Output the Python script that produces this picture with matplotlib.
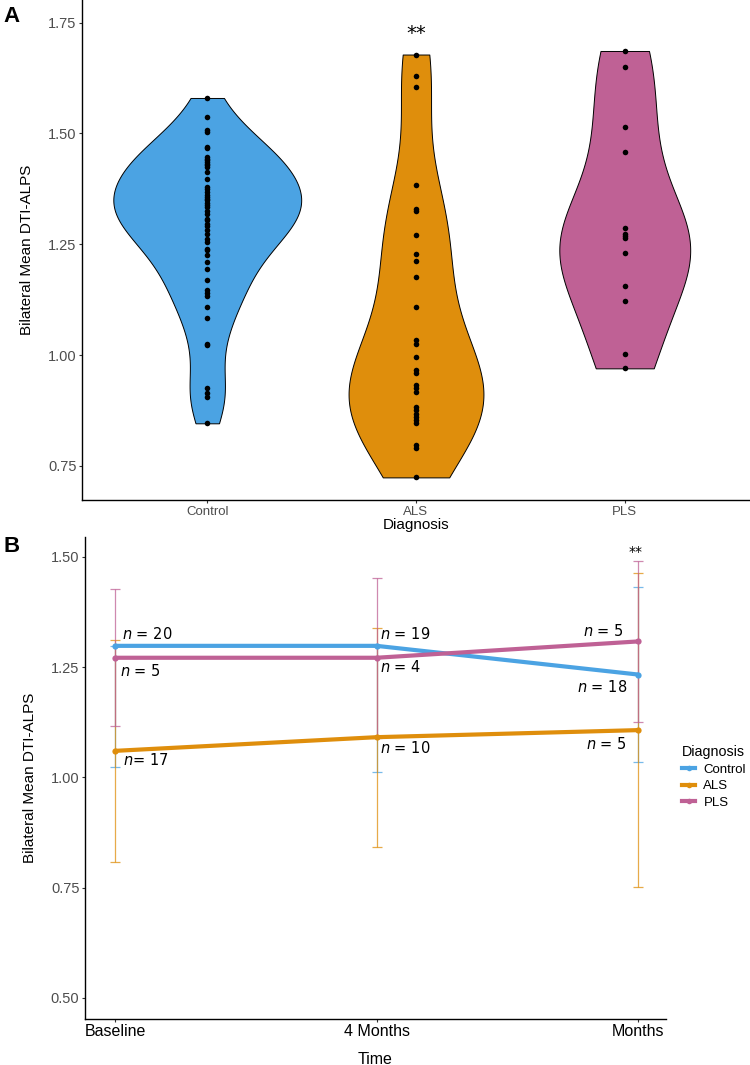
import numpy as np
import matplotlib
matplotlib.use("Agg")
import matplotlib.pyplot as plt
from matplotlib.lines import Line2D

plt.rcParams['font.family'] = ['Liberation Sans', 'DejaVu Sans']

# ---------------- Panel A data ----------------
groups = ["Control", "ALS", "PLS"]
control_vals = [1.580, 1.537, 1.507, 1.503, 1.470, 1.466, 1.447, 1.443, 1.439, 1.436,
                1.432, 1.428, 1.424, 1.413, 1.398, 1.379, 1.375, 1.368, 1.360, 1.357,
                1.353, 1.349, 1.342, 1.338, 1.334, 1.326, 1.319, 1.308, 1.304, 1.296,
                1.292, 1.281, 1.274, 1.262, 1.255, 1.240, 1.236, 1.225, 1.210, 1.195,
                1.170, 1.146, 1.139, 1.134, 1.108, 1.084, 1.025, 1.023, 0.925, 0.914,
                0.906, 0.846]
als_vals = [1.678, 1.629, 1.604, 1.383, 1.330, 1.325, 1.270, 1.229, 1.212, 1.176,
            1.108, 1.034, 1.025, 0.996, 0.967, 0.959, 0.933, 0.926, 0.916, 0.882,
            0.876, 0.868, 0.861, 0.853, 0.846, 0.797, 0.790, 0.724]
pls_vals = [1.686, 1.650, 1.515, 1.457, 1.287, 1.274, 1.268, 1.264, 1.231, 1.155,
            1.123, 1.002, 0.970]
colors = ["#4BA3E3", "#DF8E0C", "#BF6195"]
sig_label_a = "**"

# ---------------- Panel B data ----------------
times = ["Baseline", "4 Months", "Months"]
ctrl_mean = [1.298, 1.298, 1.233]
als_mean = [1.060, 1.091, 1.107]
pls_mean = [1.271, 1.271, 1.308]
ctrl_err_low = [0.275, 0.285, 0.198]
ctrl_err_high = [0.0, 0.0, 0.198]
als_err = [0.251, 0.248, 0.356]
pls_err = [0.155, 0.181, 0.183]
ctrl_n = [20, 19, 18]
als_n = [17, 10, 5]
pls_n = [5, 4, 5]
sig_label_b = "**"

fig = plt.figure(figsize=(7.5, 10.65), dpi=100)

# ================= Panel A =================
axA = fig.add_axes([82/750, 1-500/1065, (750-82)/750, 500/1065])
data = [np.array(control_vals), np.array(als_vals), np.array(pls_vals)]


def nrd0_factor(x):
    sd = np.std(x, ddof=1)
    iqr = np.subtract(*np.percentile(x, [75, 25]))
    lo = min(sd, iqr / 1.34)
    bw = 0.9 * lo * len(x) ** (-0.2)
    return bw / sd

positions = np.arange(1, len(groups) + 1)
widths = [0.90, 0.646, 0.627]
for i, d in enumerate(data):
    vp = axA.violinplot([d], positions=[positions[i]], widths=[widths[i]],
                        showextrema=False, points=300,
                        bw_method=nrd0_factor(d))
    for b in vp['bodies']:
        b.set_facecolor(colors[i])
        b.set_edgecolor('black')
        b.set_linewidth(0.7)
        b.set_alpha(1)
    axA.plot(np.full(len(d), positions[i]), d, 'o', color='black', ms=4.0,
             mec='none', zorder=3)

axA.text(2, 1.726, sig_label_a, ha='center', va='center', fontsize=14,
         family='DejaVu Sans')
axA.set_xlim(0.4, 3.6)
axA.set_ylim(0.673, 1.801)
axA.set_xticks(positions)
axA.set_xticklabels(groups)
axA.set_yticks([0.75, 1.00, 1.25, 1.50, 1.75])
axA.set_yticklabels(["0.75", "1.00", "1.25", "1.50", "1.75"])
axA.tick_params(axis='both', colors='#333333', labelcolor='#4D4D4D', length=2.5,
                width=0.8, pad=1.5)
axA.tick_params(axis='y', labelsize=10.5)
axA.tick_params(axis='x', labelsize=9.5)
axA.set_ylabel("Bilateral Mean DTI-ALPS", fontsize=11, labelpad=10)
axA.set_xlabel("Diagnosis", fontsize=11, labelpad=0)
for s in ['top', 'right']:
    axA.spines[s].set_visible(False)
for s in ['left', 'bottom']:
    axA.spines[s].set_linewidth(1.0)

fig.text(12/750, 1-16/1065, "A", fontsize=16, fontweight='bold', ha='center', va='center')

# ================= Panel B =================
axB = fig.add_axes([85/750, 1-1018.7/1065, (666-85)/750, (1018.7-537.3)/1065])
x = np.arange(1, len(times) + 1)

axB.errorbar(x, ctrl_mean, yerr=[ctrl_err_low, ctrl_err_high], fmt='none',
             ecolor=colors[0], alpha=0.75, elinewidth=0.9, capsize=3.5,
             capthick=0.9, zorder=2)
axB.errorbar(x, als_mean, yerr=als_err, fmt='none', ecolor=colors[1], alpha=0.75,
             elinewidth=0.9, capsize=3.5, capthick=0.9, zorder=2)
axB.errorbar(x, pls_mean, yerr=pls_err, fmt='none', ecolor=colors[2], alpha=0.75,
             elinewidth=0.9, capsize=3.5, capthick=0.9, zorder=2)

for means, c in zip([ctrl_mean, als_mean, pls_mean], colors):
    axB.plot(x, means, '-', color=c, lw=3.0, zorder=3, solid_capstyle='butt')
    axB.plot(x, means, 'o', color=c, ms=4.5, zorder=4, mec='none')

ntext_kw = dict(fontsize=10.5, family='DejaVu Sans', va='center')
axB.text(1.027, 1.325, r"$n$ = %d" % ctrl_n[0], ha='left', **ntext_kw)
axB.text(1.020, 1.242, r"$n$ = %d" % pls_n[0], ha='left', **ntext_kw)
axB.text(1.030, 1.039, r"$n$= %d" % als_n[0], ha='left', **ntext_kw)
axB.text(2.013, 1.324, r"$n$ = %d" % ctrl_n[1], ha='left', **ntext_kw)
axB.text(2.013, 1.251, r"$n$ = %d" % pls_n[1], ha='left', **ntext_kw)
axB.text(2.013, 1.067, r"$n$ = %d" % als_n[1], ha='left', **ntext_kw)
axB.text(2.946, 1.332, r"$n$ = %d" % pls_n[2], ha='right', **ntext_kw)
axB.text(2.960, 1.205, r"$n$ = %d" % ctrl_n[2], ha='right', **ntext_kw)
axB.text(2.958, 1.075, r"$n$ = %d" % als_n[2], ha='right', **ntext_kw)
axB.text(2.99, 1.511, sig_label_b, ha='center', va='center', fontsize=10,
         family='DejaVu Sans')

axB.set_xlim(0.885, 3.107)
axB.set_ylim(0.453, 1.544)
axB.set_xticks(x)
axB.set_xticklabels(times)
axB.set_yticks([0.50, 0.75, 1.00, 1.25, 1.50])
axB.set_yticklabels(["0.50", "0.75", "1.00", "1.25", "1.50"])
axB.tick_params(axis='both', colors='#333333', length=2.5, width=0.8, pad=1.5)
axB.tick_params(axis='y', labelsize=10.5, labelcolor='#4D4D4D')
axB.tick_params(axis='x', labelsize=11.5, labelcolor='black')
axB.set_ylabel("Bilateral Mean DTI-ALPS", fontsize=11, labelpad=10)
axB.set_xlabel("Time", fontsize=11.5, labelpad=9)
for s in ['top', 'right']:
    axB.spines[s].set_visible(False)
for s in ['left', 'bottom']:
    axB.spines[s].set_linewidth(1.0)

handles = [Line2D([0], [0], color=c, lw=3, marker='o', ms=4, mec='none')
           for c in colors]
leg = fig.legend(handles, groups, title="Diagnosis", loc='upper left',
                 bbox_to_anchor=(677/750, 1-740/1065), frameon=False,
                 fontsize=9.5, title_fontsize=10.3, handlelength=1.0,
                 handletextpad=0.6, labelspacing=0.32, borderaxespad=0)
leg._legend_box.align = "left"

fig.text(12/750, 1-547/1065, "B", fontsize=16, fontweight='bold', ha='center', va='center')

fig.savefig("out.png", dpi=100)
